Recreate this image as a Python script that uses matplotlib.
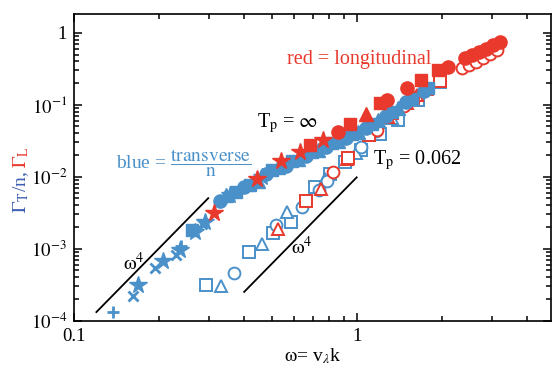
import math
import matplotlib
matplotlib.use("Agg")
import matplotlib.pyplot as plt
from matplotlib.ticker import LogLocator, FuncFormatter, NullFormatter

plt.rcParams['font.family'] = ['Liberation Serif', 'DejaVu Serif']
plt.rcParams['mathtext.fontset'] = 'stix'

BLUE = '#4a90c9'
RED = '#e8392c'

# ---- T_p = infinity (filled), transverse (blue) ----
plus_x = [0.137, 0.239]
plus_y = [0.000132, 0.00108]
xm_x = [0.162, 0.193, 0.23, 0.284, 0.413]
xm_y = [0.000219, 0.000536, 0.000811, 0.00218, 0.00734]
starb_x = [0.168, 0.206, 0.237, 0.268, 0.291, 0.356, 0.462]
starb_y = [0.000311, 0.00067, 0.000952, 0.00169, 0.00233, 0.00551, 0.00978]
sqb_x = [0.261, 0.374, 0.419, 0.502, 0.59, 0.695, 0.818, 0.962, 1.13, 1.33, 1.57, 1.79]
sqb_y = [0.0018, 0.00606, 0.00758, 0.0126, 0.0163, 0.0224, 0.0299, 0.0398, 0.0548, 0.0804, 0.122, 0.173]
cib_x = [0.328, 0.399, 0.478, 0.562, 0.662, 0.779, 0.917, 1.08, 1.27, 1.49, 1.73]
cib_y = [0.00455, 0.00711, 0.0108, 0.0143, 0.0197, 0.0263, 0.0351, 0.0482, 0.0707, 0.111, 0.157]
trb_x = [0.345, 0.448, 0.527, 0.62, 0.73, 0.859, 1.01, 1.19, 1.4]
trb_y = [0.00551, 0.00861, 0.0135, 0.0174, 0.0239, 0.0319, 0.0424, 0.0623, 0.0913]

# ---- T_p = infinity (filled), longitudinal (red) ----
starr_x = [0.313, 0.444, 0.54, 0.63, 0.76]
starr_y = [0.0031, 0.00917, 0.0163, 0.0224, 0.0329]
sqr_x = [0.684, 0.947, 1.21, 1.69, 1.94]
sqr_y = [0.0272, 0.0548, 0.107, 0.223, 0.307]
cir_x = [0.859, 1.28, 1.51, 2.1, 2.42, 2.56, 2.71, 2.87, 3.03, 3.21]
cir_y = [0.0424, 0.118, 0.173, 0.338, 0.45, 0.496, 0.545, 0.6, 0.682, 0.75]
trr_x = [1.08]
trr_y = [0.0754]

# ---- T_p = 0.062 (open) ----
osqb_x = [0.293, 0.416, 0.506, 0.586, 0.712, 0.805, 0.909, 1.04, 1.21, 1.4, 1.65, 1.97]
osqb_y = [0.000311, 0.000893, 0.00164, 0.00233, 0.00711, 0.0108, 0.0158, 0.0239, 0.0398, 0.0623, 0.118, 0.209]
otrb_x = [0.331, 0.462, 0.567, 0.772, 0.994, 1.33]
otrb_y = [0.000302, 0.00115, 0.0032, 0.00917, 0.0217, 0.0664]
ocib_x = [0.368, 0.518, 0.64, 0.736, 0.785, 1.04, 1.17]
ocib_y = [0.000457, 0.00211, 0.00375, 0.00646, 0.00861, 0.0255, 0.0438]
otrr_x = [0.527, 0.748, 0.924, 1.29, 1.51, 1.63]
otrr_y = [0.00186, 0.00667, 0.0174, 0.0685, 0.107, 0.138]
osqr_x = [0.662, 0.932, 1.11, 1.33, 1.58, 1.77, 1.97]
osqr_y = [0.00455, 0.0185, 0.0386, 0.0778, 0.126, 0.167, 0.216]
ocir_x = [0.824, 1.18, 1.47, 2.36, 2.5, 2.64, 2.8, 2.96, 3.14]
ocir_y = [0.0118, 0.0452, 0.0973, 0.327, 0.36, 0.396, 0.45, 0.512, 0.581]

# omega^4 guide lines
guide1_x = [0.12, 0.2985]
guide2_x = [0.40, 1.0]
guide1_a = 1.315e-4 / 0.12 ** 4
guide2_a = 9.8e-3

fig = plt.figure(figsize=(5.53, 3.71), dpi=100)
ax = fig.add_axes([0.1338, 0.1358, 0.8626, 0.8265])

# open markers, lower branch
mk = dict(linestyle='none', markersize=8.5, markerfacecolor='white', markeredgewidth=1.4)
ax.plot(osqb_x, osqb_y, 's', color=BLUE, zorder=2, **mk)
ax.plot(otrb_x, otrb_y, '^', color=BLUE, zorder=2, **mk)
ax.plot(ocib_x, ocib_y, 'o', color=BLUE, zorder=2, **mk)
ax.plot(otrr_x, otrr_y, '^', color=RED, zorder=3, **mk)
ax.plot(osqr_x, osqr_y, 's', color=RED, zorder=3, **mk)
ax.plot(ocir_x, ocir_y, 'o', color=RED, zorder=3, **mk)

# filled markers, upper branch
ax.plot(plus_x, plus_y, '+', color=BLUE, ls='none', ms=9, mew=2, zorder=4)
ax.plot(xm_x, xm_y, 'x', color=BLUE, ls='none', ms=7, mew=2, zorder=4)
ax.plot(sqb_x, sqb_y, 's', color=BLUE, ls='none', ms=9, zorder=4)
ax.plot(cib_x, cib_y, 'o', color=BLUE, ls='none', ms=9.5, zorder=4)
ax.plot(trb_x, trb_y, '^', color=BLUE, ls='none', ms=9.5, zorder=4)
ax.plot(starb_x, starb_y, '*', color=BLUE, ls='none', ms=13, zorder=4)
ax.plot(starr_x, starr_y, '*', color=RED, ls='none', ms=13, zorder=5)
ax.plot(sqr_x, sqr_y, 's', color=RED, ls='none', ms=9, zorder=5)
ax.plot(cir_x, cir_y, 'o', color=RED, ls='none', ms=9.5, zorder=5)
ax.plot(trr_x, trr_y, '^', color=RED, ls='none', ms=9.5, zorder=5)

# guides
ax.plot(guide1_x, [guide1_a * v ** 4 for v in guide1_x], 'k-', lw=1.3, zorder=1)
ax.plot(guide2_x, [guide2_a * v ** 4 for v in guide2_x], 'k-', lw=1.3, zorder=1)

ax.set_xscale('log')
ax.set_yscale('log')
ax.set_xlim(0.1, 4.87)
ax.set_ylim(1e-4, 1.83)

ax.xaxis.set_major_locator(LogLocator(base=10, numticks=10))
ax.xaxis.set_minor_locator(LogLocator(base=10, subs=range(2, 10), numticks=10))
ax.xaxis.set_major_formatter(FuncFormatter(lambda v, p: '%g' % v))
ax.xaxis.set_minor_formatter(NullFormatter())


def yfmt(v, p):
    if abs(v - 1) < 1e-9:
        return '1'
    return r'$10^{%d}$' % round(math.log10(v))


ax.yaxis.set_major_formatter(FuncFormatter(yfmt))
ax.yaxis.set_minor_locator(LogLocator(base=10, subs=range(2, 10), numticks=10))
ax.yaxis.set_minor_formatter(NullFormatter())

ax.tick_params(which='both', direction='in', top=True, right=True, width=1.1, labelsize=13.5)
ax.tick_params(axis='x', pad=5)
ax.tick_params(axis='y', pad=5)
ax.tick_params(which='major', length=6)
ax.tick_params(which='minor', length=3.5)
for s in ax.spines.values():
    s.set_linewidth(1.2)

ax.set_xlabel(r'$\mathrm{\omega}$= v$_{\lambda}$k', fontsize=14, labelpad=1)

fig.text(0.038, 0.4259, r'$\Gamma_{\mathrm{T}}$/n,', color='#3f5fb5', rotation=90,
         ha='center', va='bottom', fontsize=14)
fig.text(0.038, 0.548, r'$\Gamma_{\mathrm{L}}$', color=RED, rotation=90,
         ha='center', va='bottom', fontsize=14)

ax.text(0.4465, 0.85, 'red = longitudinal', color=RED, fontsize=14.5,
        ha='left', va='center', transform=ax.transAxes)
ax.text(0.3836, 0.6445, r'T$_\mathrm{p}$ = $\infty$', fontsize=14.5,
        ha='left', va='center', transform=ax.transAxes)
ax.text(0.627, 0.524, r'T$_\mathrm{p}$ = 0.062', fontsize=14.5,
        ha='left', va='center', transform=ax.transAxes)
ax.text(0.088, 0.514, r'blue = $\dfrac{\mathrm{transverse}}{\mathrm{n}}$', color=BLUE,
        fontsize=14, ha='left', va='center', transform=ax.transAxes)
ax.text(0.1258, 0.1846, r'$\mathrm{\omega}^4$', fontsize=14.5,
        ha='center', va='center', transform=ax.transAxes)
ax.text(0.478, 0.2368, r'$\mathrm{\omega}^4$', fontsize=14.5,
        ha='center', va='center', transform=ax.transAxes)

fig.savefig('out.png', dpi=100)
